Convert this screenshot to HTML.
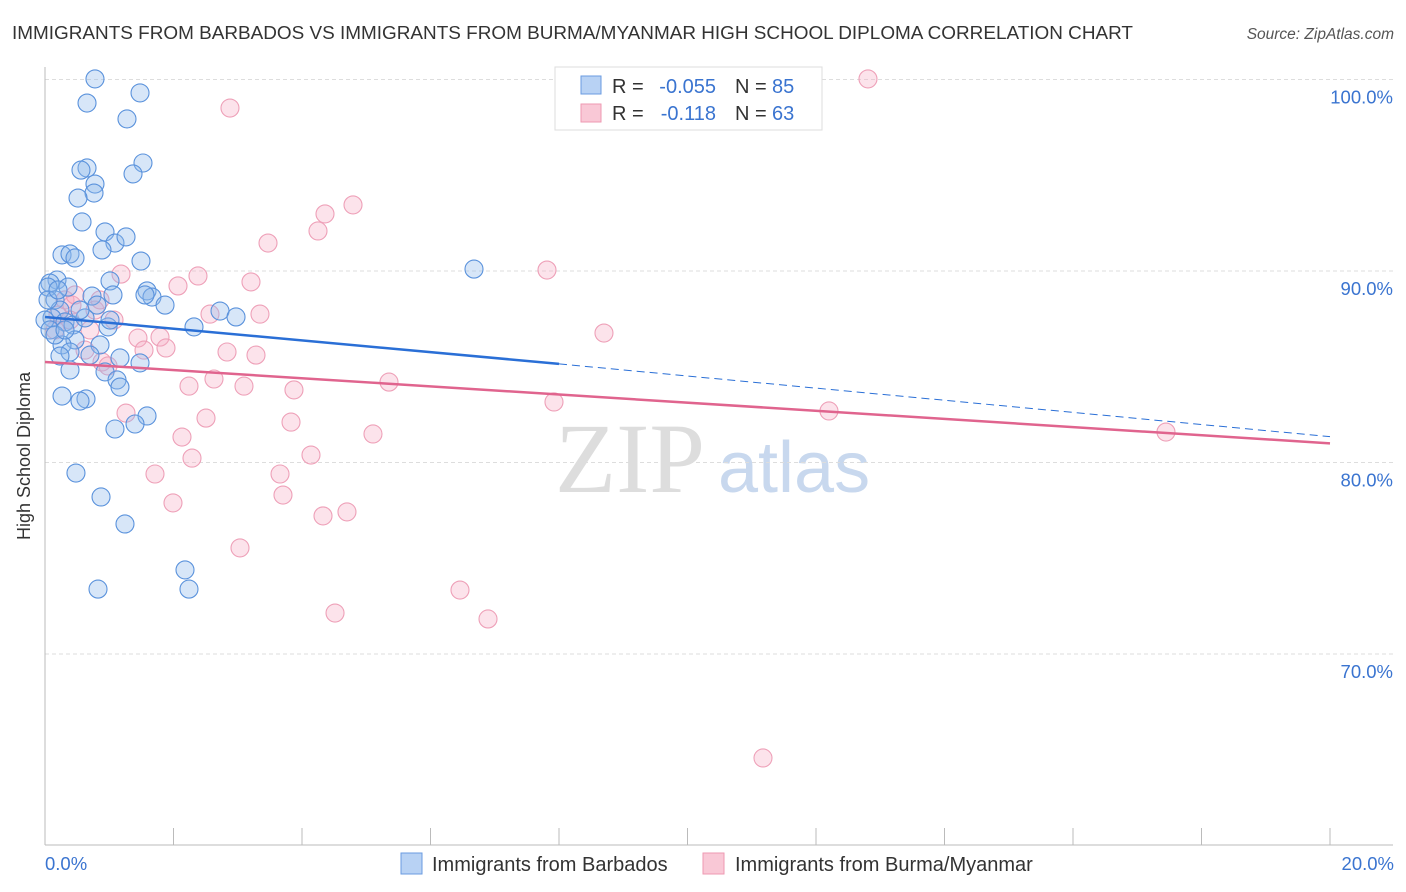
<!DOCTYPE html>
<html><head><meta charset="utf-8"><style>
body{margin:0;background:#fff;font-family:"Liberation Sans",sans-serif}
svg{display:block}
</style></head><body>
<svg width="1406" height="892">
<text x="12" y="39" font-size="18.8" fill="#333" textLength="1121" lengthAdjust="spacingAndGlyphs">IMMIGRANTS FROM BARBADOS VS IMMIGRANTS FROM BURMA/MYANMAR HIGH SCHOOL DIPLOMA CORRELATION CHART</text>
<text x="1394" y="39" font-size="15.5" fill="#555" font-style="italic" text-anchor="end">Source: ZipAtlas.com</text>
<text x="555" y="492" font-size="100" font-family="Liberation Serif,serif" fill="#ddd">ZIP</text>
<text x="718" y="492" font-size="72" fill="#c8d8ee">atlas</text>
<g id="grid"></g>
<line x1="45" y1="67" x2="45" y2="845" stroke="#bbb"/>
<line x1="45" y1="845" x2="1393" y2="845" stroke="#bbb"/>
<g id="xticks"></g>
<text x="30" y="456" font-size="18" fill="#333" text-anchor="middle" transform="rotate(-90 30 456)">High School Diploma</text>
<text x="45" y="870" font-size="18.5" fill="#3a74d0">0.0%</text>
<text x="1394" y="870" font-size="18.5" fill="#3a74d0" text-anchor="end">20.0%</text>
<g id="pts"></g>
<g id="lines"></g>
<g>
<rect x="555" y="67" width="267" height="63" fill="#fff" stroke="#ddd"/>
<rect x="581" y="76" width="20" height="18" fill="#b8d2f4" stroke="#6a9be0"/>
<rect x="581" y="104" width="20" height="18" fill="#f9c8d6" stroke="#ee99b2"/>
<text x="612" y="93" font-size="20" fill="#333">R =</text>
<text x="716" y="93" font-size="20" fill="#3a74d0" text-anchor="end">-0.055</text>
<text x="735" y="93" font-size="20" fill="#333">N =</text>
<text x="772" y="93" font-size="20" fill="#3a74d0">85</text>
<text x="612" y="120" font-size="20" fill="#333">R =</text>
<text x="716" y="120" font-size="20" fill="#3a74d0" text-anchor="end">-0.118</text>
<text x="735" y="120" font-size="20" fill="#333">N =</text>
<text x="772" y="120" font-size="20" fill="#3a74d0">63</text>
</g>
<g>
<rect x="401" y="853" width="21" height="21" fill="#b8d2f4" stroke="#6a9be0"/>
<text x="432" y="871" font-size="20" fill="#333">Immigrants from Barbados</text>
<rect x="703" y="853" width="21" height="21" fill="#f9c8d6" stroke="#ee99b2"/>
<text x="735" y="871" font-size="20" fill="#333">Immigrants from Burma/Myanmar</text>
</g>
</svg>
<script>
const yTicks=[100,90,80,70];
const yTickLabels=["100.0%","90.0%","80.0%","70.0%"];
const bluePx=[[95,79],[87,103],[140,93],[127,119],[143,163],[133,174],[87,168],[81,170],[95,184],[94,193],[78,198],[82,222],[105,232],[115,243],[126,237],[102,250],[62,255],[70,254],[75,258],[141,261],[474,269],[57,280],[50,283],[48,287],[68,287],[110,281],[147,291],[152,297],[113,295],[92,296],[165,305],[220,311],[236,317],[194,327],[55,300],[60,310],[52,318],[65,322],[73,325],[85,318],[108,327],[100,345],[75,340],[62,345],[70,352],[60,356],[120,358],[140,363],[70,370],[105,372],[117,380],[120,387],[62,396],[86,399],[80,401],[147,416],[135,424],[115,429],[76,473],[101,497],[125,524],[185,570],[98,589],[189,589],[45,320],[50,330],[55,335],[48,300],[65,330],[90,355],[58,290],[80,310],[97,305],[145,295],[110,320]];
const pinkPx=[[230,108],[868,79],[353,205],[325,214],[318,231],[268,243],[547,270],[121,274],[198,276],[251,282],[178,286],[210,314],[260,314],[604,333],[160,337],[138,338],[166,348],[144,350],[227,352],[256,355],[114,320],[95,310],[65,300],[72,305],[58,315],[85,350],[102,362],[108,366],[214,379],[189,386],[244,386],[294,390],[389,382],[554,402],[126,413],[206,418],[291,422],[373,434],[182,437],[829,411],[1166,432],[192,458],[311,455],[155,474],[280,474],[173,503],[283,495],[323,516],[347,512],[240,548],[460,590],[335,613],[488,619],[763,758],[70,320],[55,330],[90,330],[75,295],[100,300]];
const blueX=bluePx.map(p=>+((p[0]-45)/1285*20).toFixed(3));
const blueY=bluePx.map(p=>+(100-(p[1]-79.5)/19.15).toFixed(2));
const pinkX=pinkPx.map(p=>+((p[0]-45)/1285*20).toFixed(3));
const pinkY=pinkPx.map(p=>+(100-(p[1]-79.5)/19.15).toFixed(2));
const blueTrend=[87.6,85.15,81.35];
const pinkTrend=[85.25,81.0];
const NS="http://www.w3.org/2000/svg";
const sx=v=>45+v/20*1285, sy=v=>79.5+(100-v)*19.15;
function mk(t,a,p){const e=document.createElementNS(NS,t);for(const k in a)e.setAttribute(k,a[k]);p.appendChild(e);return e;}
const grid=document.getElementById('grid');
yTicks.forEach((t,i)=>{
 const l=mk('line',{x1:45,x2:1393,y1:sy(t),y2:sy(t),stroke:'#ddd','stroke-dasharray':'4,3'},grid);
 
 
 const tx=mk('text',{x:1393,y:sy(t)+24,'font-size':18.5,fill:'#3a74d0','text-anchor':'end'},grid);
 tx.textContent=yTickLabels[i];
 
 
});
const xt=document.getElementById('xticks');
for(let i=0;i<=10;i++){const l=mk('line',{x1:sx(i*2),x2:sx(i*2),y1:828,y2:845,stroke:'#bbb'},xt);
 
 }
const pts=document.getElementById('pts');
pinkX.forEach((x,i)=>{const c=mk('circle',{cx:sx(x),cy:sy(pinkY[i]),r:9,fill:'rgba(246,176,198,0.35)',stroke:'#eea0b8','stroke-width':1.1},pts);
 
 });
blueX.forEach((x,i)=>{const c=mk('circle',{cx:sx(x),cy:sy(blueY[i]),r:9,fill:'rgba(140,182,236,0.35)',stroke:'#5a92dc','stroke-width':1.1},pts);
 
 });
const ln=document.getElementById('lines');
let a=mk('line',{x1:sx(0),y1:sy(blueTrend[0]),x2:sx(8),y2:sy(blueTrend[1]),stroke:'#2a6fd6','stroke-width':2.5},ln);


a=mk('line',{x1:sx(8),y1:sy(blueTrend[1]),x2:sx(20),y2:sy(blueTrend[2]),stroke:'#2a6fd6','stroke-width':1,'stroke-dasharray':'8,5'},ln);


a=mk('line',{x1:sx(0),y1:sy(pinkTrend[0]),x2:sx(20),y2:sy(pinkTrend[1]),stroke:'#e0648e','stroke-width':2.5},ln);


</script>
</body></html>
